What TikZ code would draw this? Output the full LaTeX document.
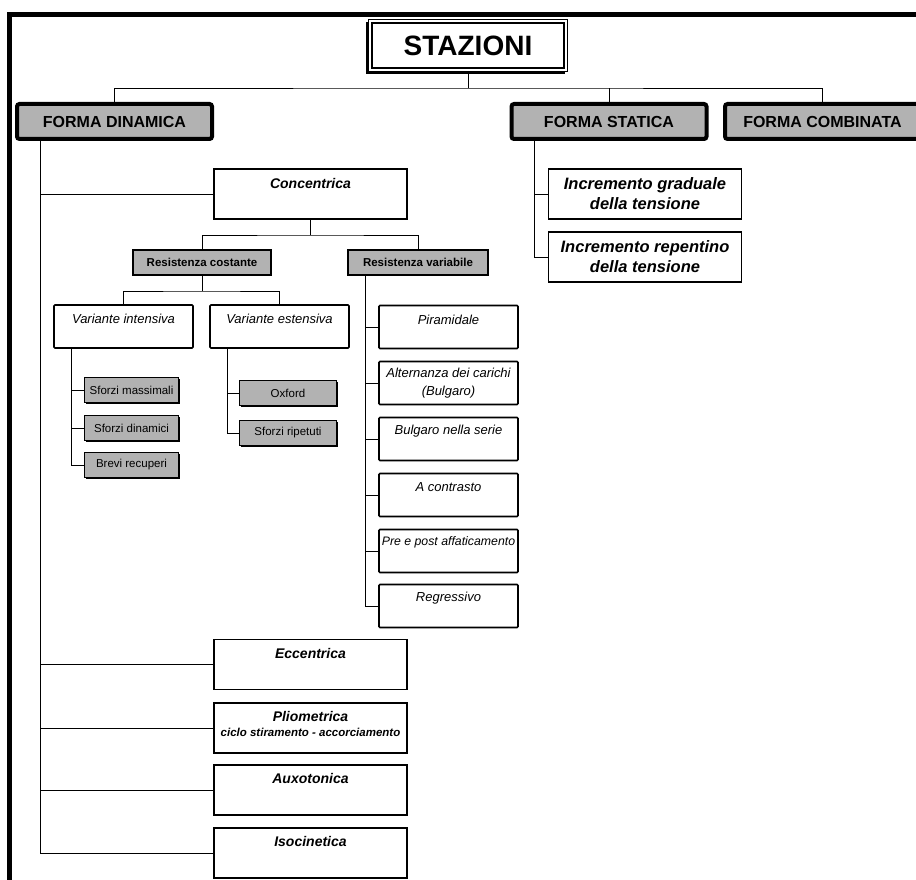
\documentclass[tikz,border=0pt]{standalone}
\usepackage{fontspec}
\setmainfont{Liberation Sans}
\usetikzlibrary{shadows}
\definecolor{boxgray}{HTML}{B2B2B2}
\begin{document}
\begin{tikzpicture}[x=1pt,y=-1pt,
  conn/.style={draw=black,line width=0.9pt},
  titlebox/.style={draw=black,fill=white,line width=0.8pt,minimum width=199pt,minimum height=52pt,inner sep=0pt,font=\fontsize{28}{30}\selectfont\bfseries,general shadow={fill=black,shadow xshift=-2.5pt,shadow yshift=-3pt}},
  formabox/.style={draw=black,fill=boxgray,line width=4pt,rounded corners=2.5pt,minimum width=195pt,minimum height=35pt,inner sep=0pt,font=\fontsize{16}{18}\selectfont\bfseries},
  bigbox/.style={draw=black,fill=white,line width=1.8pt,minimum width=193pt,minimum height=50pt,inner sep=0pt},
  bigtxt/.style={inner sep=0pt,font=\fontsize{14}{16}\selectfont\bfseries\itshape},
  inctxt/.style={font=\fontsize{16.5}{20}\selectfont\bfseries\itshape,align=center},
  resbox/.style={draw=black,fill=boxgray,line width=2pt,minimum width=138pt,minimum height=25pt,inner sep=0pt,font=\fontsize{11.5}{13}\selectfont\bfseries},
  midbox/.style={draw=black,fill=white,line width=1.6pt,rounded corners=1pt,minimum width=139pt,minimum height=43pt,inner sep=0pt},
  midtxt/.style={inner sep=0pt,font=\fontsize{13}{18}\selectfont\itshape,align=center},
  smallbox/.style={draw=black,fill=boxgray,line width=1pt,minimum width=94pt,minimum height=25pt,inner sep=0pt,font=\fontsize{11.5}{13}\selectfont,general shadow={fill=black,shadow xshift=1.5pt,shadow yshift=-1.5pt}},
]
\clip (0,0) rectangle (916,880);
\fill[white] (0,0) rectangle (916,880);
\draw[line width=5pt,line join=miter] (9.5,890) -- (9.5,14.5) -- (925,14.5);

% title and top level
\node[titlebox] (title) at (468,45.5) {STAZIONI};
\draw[line width=1.6pt] ([xshift=4pt,yshift=-4pt]title.north west) rectangle ([xshift=-4pt,yshift=4pt]title.south east);

\node[formabox] (fd) at (114.5,121.5) {FORMA DINAMICA};
\node[formabox] (fs) at (609,121.5) {FORMA STATICA};
\node[formabox] (fc) at (822.5,121.5) {FORMA COMBINATA};

\coordinate (tb) at (468,88);
\draw[conn] (title.south) -- (tb);
\draw[conn] (fd.north) |- (tb) -| (fc.north);
\draw[conn] (fs.north) -- (fs.north |- tb);

% forma statica
\node[bigbox,inctxt] (ig) at (645,194) {Incremento graduale\\della tensione};
\node[bigbox,inctxt] (ir) at (645,257) {Incremento repentino\\della tensione};
\coordinate (fsl) at (534,141);
\draw[conn] (fsl) |- (ig.west);
\draw[conn] (fsl) |- (ir.west);

% forma dinamica
\coordinate (fdl) at (40,141);
\node[bigbox] (conc) at (310.5,194) {};
\node[bigbox] (ecc) at (310.5,664.5) {};
\node[bigbox] (plio) at (310.5,728) {};
\node[bigbox] (auxo) at (310.5,790) {};
\node[bigbox] (isoc) at (310.5,853) {};
\node[bigtxt] (conct) at ([yshift=-15pt]conc.north) {Concentrica};
\node[bigtxt] (ecct) at ([yshift=-15pt]ecc.north) {Eccentrica};
\node[bigtxt] (pliot) at ([yshift=-14pt]plio.north) {Pliometrica};
\node[bigtxt,font=\fontsize{11.5}{13}\selectfont\bfseries\itshape] (pliot2) at ([yshift=-30pt]plio.north) {ciclo stiramento - accorciamento};
\node[bigtxt] (auxot) at ([yshift=-14pt]auxo.north) {Auxotonica};
\node[bigtxt] (isoct) at ([yshift=-14pt]isoc.north) {Isocinetica};
\draw[conn] (fdl) |- (conc.west);
\draw[conn] (fdl) |- (ecc.west);
\draw[conn] (fdl) |- (plio.west);
\draw[conn] (fdl) |- (auxo.west);
\draw[conn] (fdl) |- (isoc.west);

% resistenza
\node[resbox] (rc) at (202,262.5) {Resistenza costante};
\node[resbox,minimum width=140pt] (rv) at (418,262.5) {Resistenza variabile};
\coordinate (cb) at (310.5,235);
\draw[conn] (conc.south) -- (cb);
\draw[conn] (rc.north) |- (cb) -| (rv.north);

% varianti
\node[midbox] (vi) at (123.5,326.5) {};
\node[midbox] (ve) at (279.5,326.5) {};
\node[midtxt] (vit) at ([yshift=-15pt]vi.north) {Variante intensiva};
\node[midtxt] (vet) at ([yshift=-15pt]ve.north) {Variante estensiva};
\coordinate (rb) at (202,291);
\draw[conn] (rc.south) -- (rb);
\draw[conn] (vi.north) |- (rb) -| (ve.north);

\node[smallbox] (sm) at (131.5,390) {Sforzi massimali};
\node[smallbox] (sd) at (131.5,428) {Sforzi dinamici};
\node[smallbox] (br) at (131.5,465) {Brevi recuperi};
\coordinate (vil) at (71,349);
\draw[conn] (vil) |- (sm.west);
\draw[conn] (vil) |- (sd.west);
\draw[conn] (vil) |- (br.west);

\node[smallbox,minimum width=97pt] (ox) at (288,393) {Oxford};
\node[smallbox,minimum width=97pt] (sr) at (288,433) {Sforzi ripetuti};
\coordinate (vel) at (227,349);
\draw[conn] (vel) |- (ox.west);
\draw[conn] (vel) |- (sr.west);

% resistenza variabile list
\node[midbox] (pir) at (448.5,327) {};
\node[midbox,midtxt] (alt) at (448.5,383) {Alternanza dei carichi\\(Bulgaro)};
\node[midbox] (bns) at (448.5,439) {};
\node[midbox] (acon) at (448.5,495) {};
\node[midbox] (ppa) at (448.5,551) {};
\node[midbox] (reg) at (448.5,606) {};
\node[midtxt] (pirt) at ([yshift=-15pt]pir.north) {Piramidale};
\node[midtxt] (bnst) at ([yshift=-14pt]bns.north) {Bulgaro nella serie};
\node[midtxt] (acont) at ([yshift=-14pt]acon.north) {A contrasto};
\node[midtxt,font=\fontsize{12.3}{14}\selectfont\itshape] (ppat) at ([yshift=-14pt]ppa.north) {Pre e post affaticamento};
\node[midtxt] (regt) at ([yshift=-14pt]reg.north) {Regressivo};
\coordinate (rvl) at (365,276);
\draw[conn] (rvl) |- (pir.west);
\draw[conn] (rvl) |- (alt.west);
\draw[conn] (rvl) |- (bns.west);
\draw[conn] (rvl) |- (acon.west);
\draw[conn] (rvl) |- (ppa.west);
\draw[conn] (rvl) |- (reg.west);
\end{tikzpicture}
\end{document}
